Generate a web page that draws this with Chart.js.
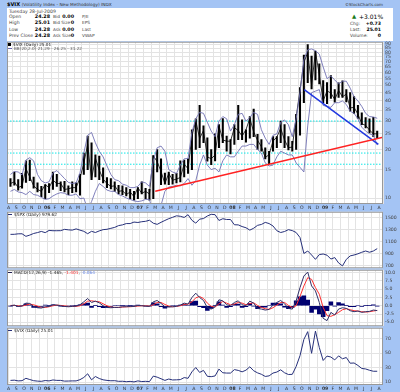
<!DOCTYPE html>
<html>
<head>
<meta charset="utf-8">
<script src="https://cdn.jsdelivr.net/npm/chart.js@4.4.0/dist/chart.umd.min.js"></script>
<style>
  body { margin:0; width:400px; height:392px; background:#a4c4f4; position:relative; overflow:hidden; font-family:'DejaVu Sans', sans-serif; }
  .t { position:absolute; white-space:nowrap; line-height:1; }
  .r { text-align:right; }
  .b { font-weight:bold; color:#000; }
  .lab { color:#444; }
  #head { position:absolute; left:7px; top:8px; width:386px; height:33px; background:#fff; }
  canvas { position:absolute; left:0; }
  .dash { display:inline-block; width:4px; height:1px; vertical-align:middle; margin-right:2px; }
</style>
</head>
<body>
<div class="t" style="left:7px;top:2px;font-size:5px"><b>$VIX</b> <span style="color:#333;font-size:4.3px">(Volatility Index - New Methodology) INDX</span></div>
<div class="t" style="left:345px;top:2.5px;font-size:4px;color:#333">©StockCharts.com</div>
<div id="head"></div>
<div class="t lab" style="left:9px;top:9.5px;font-size:4.6px">Tuesday 28-Jul-2009</div>

<div class="t lab" style="left:9px;top:14.5px;font-size:4.6px">Open</div>
<div class="t lab" style="left:9px;top:21px;font-size:4.6px">High</div>
<div class="t lab" style="left:9px;top:27.5px;font-size:4.6px">Low</div>
<div class="t lab" style="left:9px;top:33.5px;font-size:4.6px">Prev Close</div>
<div class="t b r" style="left:20px;width:30px;top:14.5px;font-size:4.8px">24.28</div>
<div class="t b r" style="left:20px;width:30px;top:21px;font-size:4.8px">25.01</div>
<div class="t b r" style="left:20px;width:30px;top:27.5px;font-size:4.8px">24.28</div>
<div class="t b r" style="left:20px;width:30px;top:33.5px;font-size:4.8px">24.28</div>

<div class="t lab" style="left:53px;top:14.5px;font-size:4.3px">Bid</div>
<div class="t lab" style="left:53px;top:21px;font-size:4.3px">Bid Size</div>
<div class="t lab" style="left:53px;top:27.5px;font-size:4.3px">Ask</div>
<div class="t lab" style="left:53px;top:33.5px;font-size:4.3px">Ask Size</div>
<div class="t b r" style="left:53px;width:21px;top:14.5px;font-size:4.8px">0.00</div>
<div class="t b r" style="left:53px;width:21px;top:21px;font-size:4.8px">0</div>
<div class="t b r" style="left:53px;width:21px;top:27.5px;font-size:4.8px">0.00</div>
<div class="t b r" style="left:53px;width:21px;top:33.5px;font-size:4.8px">0</div>

<div class="t lab" style="left:82px;top:14.5px;font-size:4.3px">P/E</div>
<div class="t lab" style="left:82px;top:21px;font-size:4.3px">EPS</div>
<div class="t lab" style="left:82px;top:27.5px;font-size:4.3px">Last</div>
<div class="t lab" style="left:82px;top:33.5px;font-size:4.3px">VWAP</div>

<div class="t" style="left:352px;top:13.5px;font-size:5.5px;color:#1a7a1a">▲</div>
<div class="t" style="left:359px;top:13.5px;font-size:6px;color:#000">+3.01%</div>
<div class="t lab" style="left:350px;top:21.5px;font-size:4.4px">Chg:</div>
<div class="t lab" style="left:350px;top:27.5px;font-size:4.4px">Last:</div>
<div class="t lab" style="left:350px;top:33.5px;font-size:4.4px">Volume:</div>
<div class="t b r" style="left:360px;width:21px;top:21.5px;font-size:4.6px">+0.73</div>
<div class="t b r" style="left:360px;width:21px;top:27.5px;font-size:4.6px">25.01</div>
<div class="t b r" style="left:360px;width:21px;top:33.5px;font-size:4.6px">0</div>

<canvas id="main" width="400" height="174" style="top:37px"></canvas>
<canvas id="spx" width="400" height="66" style="top:207px"></canvas>
<canvas id="macd" width="400" height="66" style="top:265px"></canvas>
<canvas id="vix" width="400" height="69" style="top:323px"></canvas>

<div class="t" style="left:8px;top:42.5px;font-size:4.2px;color:#222"><span style="display:inline-block;width:3px;height:3px;background:#000;margin-right:2px;vertical-align:middle"></span>$VIX (Daily) 25.01</div>
<div class="t" style="left:8px;top:47px;font-size:4.2px;color:#555"><span class="dash" style="background:#6b6bb0"></span>BB(20,2.0) 21.29 - 26.25 - 31.22</div>
<div class="t" style="left:8px;top:213px;font-size:4.3px;color:#222"><span class="dash" style="background:#26307a"></span>$SPX (Daily) 979.62</div>
<div class="t" style="left:8px;top:270.5px;font-size:4.3px;color:#222"><span class="dash" style="background:#202050"></span>MACD(12,26,9) -1.465, <span style="color:#ff3030">-1.401</span>, <span style="color:#6a8ae8">-0.064</span></div>
<div class="t" style="left:8px;top:328.5px;font-size:4.3px;color:#222"><span class="dash" style="background:#26307a"></span>$VIX (Daily) 25.01</div>

<script>
// half-month periods, Aug 2005 .. Jul 2009
const periods = [
  '05-08a','05-08b','05-09a','05-09b','05-10a','05-10b','05-11a','05-11b','05-12a','05-12b',
  '06-01a','06-01b','06-02a','06-02b','06-03a','06-03b','06-04a','06-04b','06-05a','06-05b','06-06a','06-06b',
  '06-07a','06-07b','06-08a','06-08b','06-09a','06-09b','06-10a','06-10b','06-11a','06-11b','06-12a','06-12b',
  '07-01a','07-01b','07-02a','07-02b','07-03a','07-03b','07-04a','07-04b','07-05a','07-05b','07-06a','07-06b',
  '07-07a','07-07b','07-08a','07-08b','07-09a','07-09b','07-10a','07-10b','07-11a','07-11b','07-12a','07-12b',
  '08-01a','08-01b','08-02a','08-02b','08-03a','08-03b','08-04a','08-04b','08-05a','08-05b','08-06a','08-06b',
  '08-07a','08-07b','08-08a','08-08b','08-09a','08-09b','08-10a','08-10b','08-11a','08-11b','08-12a','08-12b',
  '09-01a','09-01b','09-02a','09-02b','09-03a','09-03b','09-04a','09-04b','09-05a','09-05b','09-06a','09-06b',
  '09-07a','09-07b'
];

const monthLabels = ['A','S','O','N','D','06','F','M','A','M','J','J','A','S','O','N','D','07','F','M','A','M','J','J',
  'A','S','O','N','D','08','F','M','A','M','J','J','A','S','O','N','D','09','F','M','A','M','J','J','A'];

const vixLow = [
  11.8,12.0, 11.2,11.5, 12.5,12.8, 11.5,10.9, 10.2,9.9,
  10.8,11.3, 11.8,11.1, 10.9,10.5, 10.8,10.9, 10.4,14.0, 15.0,13.0, 13.5,13.0, 12.4,11.6, 11.4,11.0, 10.6,10.5, 10.3,9.9, 9.7,9.9,
  10.6,9.9, 9.7,9.9, 14.5,12.1, 12.2,12.1, 12.2,12.4, 12.6,13.5, 14.2,15.0, 20.0,20.5, 22.0,16.9, 16.1,17.0, 20.5,22.0, 19.5,18.8,
  21.5,23.0, 23.0,22.2, 23.5,24.0, 20.0,19.5, 17.5,16.3, 19.5,20.5, 22.0,20.5, 19.9,19.5, 20.0,24.5, 39.0,52.0, 47.5,54.0, 51.0,39.0,
  38.5,41.5, 39.3,42.0, 42.0,39.4, 34.5,33.5, 31.2,28.5, 27.2,25.3, 24.0,23.3
];
const vixHigh = [
  13.2,14.5, 13.0,14.2, 17.0,17.2, 13.5,12.4, 11.8,12.1,
  12.3,14.5, 14.0,12.6, 12.7,11.9, 12.6,12.4, 14.0,19.0, 24.2,22.0, 18.5,18.2, 15.4,13.4, 13.2,12.6, 12.0,11.9, 11.6,11.3, 11.0,11.6,
  12.6,11.5, 11.3,18.3, 20.0,17.5, 14.3,14.5, 14.0,14.2, 17.0,17.2, 17.5,26.5, 31.0,37.5, 28.0,23.6, 20.0,25.0, 28.5,31.1, 24.2,23.0,
  28.5,37.5, 30.5,26.5, 32.0,35.6, 24.8,23.0, 20.5,19.5, 24.0,24.0, 30.0,28.5, 24.0,22.5, 33.0,48.4, 76.9,89.5, 76.0,81.5, 68.0,53.5,
  52.0,57.4, 47.0,51.7, 53.2,47.0, 45.0,42.5, 37.5,33.8, 31.5,31.0, 31.6,26.0
];
const vixClose = [
  12.3,12.6, 11.6,11.9, 15.2,13.5, 11.9,11.3, 11.0,12.1,
  11.6,12.9, 12.3,12.3, 11.3,11.4, 11.6,11.6, 13.3,16.4, 21.5,13.1, 17.7,14.9, 13.1,12.3, 11.8,11.9, 11.0,11.1, 10.5,10.9, 10.2,11.6,
  10.7,11.0, 10.6,18.3, 16.8,14.6, 12.3,14.2, 12.9,13.1, 13.4,16.2, 15.2,24.2, 30.2,23.4, 26.2,18.0, 17.5,18.5, 28.0,22.9, 22.5,22.5,
  27.3,26.2, 24.2,26.5, 31.2,25.7, 22.8,20.8, 17.8,18.6, 22.5,23.9, 27.0,22.9, 20.5,20.7, 31.7,46.7, 69.3,80.1, 50.0,80.9, 58.0,40.0,
  46.1,44.8, 40.8,46.4, 42.4,44.1, 36.2,36.5, 33.1,28.9, 28.2,26.4, 25.0,25.01
];
const bbUpper = [
  14.0,14.6, 14.5,13.9, 17.2,17.8, 17.0,14.0, 12.8,12.4,
  12.6,14.3, 14.8,14.0, 13.2,12.5, 12.3,12.4, 14.3,19.0, 24.5,25.5, 22.0,19.5, 18.0,15.8, 14.0,13.0, 12.8,12.2, 12.0,11.6, 11.6,11.8,
  12.6,12.4, 11.8,17.0, 20.5,21.0, 19.5,15.0, 14.5,14.2, 16.0,17.5, 17.6,25.5, 31.0,34.0, 33.5,29.5, 26.0,24.0, 30.0,32.0, 31.0,26.0,
  28.5,33.0, 33.5,30.0, 31.5,34.0, 33.0,26.5, 23.5,21.5, 24.5,25.0, 29.5,30.5, 28.5,24.0, 31.0,45.0, 72.0,83.0, 84.0,82.0, 78.0,65.0,
  55.0,57.0, 54.0,51.0, 53.0,53.0, 48.0,42.5, 40.0,37.0, 33.5,32.0, 31.8,31.22
];
const bbLower = [
  11.0,11.3, 10.9,10.8, 10.5,11.0, 10.5,10.4, 10.1,9.8,
  9.9,10.3, 10.6,10.8, 10.7,10.4, 10.4,10.6, 9.9,10.0, 8.5,9.5, 11.0,12.3, 11.8,11.2, 11.0,11.0, 10.5,10.3, 10.0,9.8, 9.6,9.5,
  9.6,9.8, 9.8,8.0, 7.5,9.0, 11.0,11.7, 11.8,12.0, 11.9,12.3, 13.2,12.0, 12.8,16.0, 18.5,16.0, 15.0,15.3, 14.5,17.0, 18.5,18.0,
  18.0,19.5, 21.0,21.0, 21.5,21.5, 20.0,19.0, 16.5,15.8, 16.0,18.0, 19.5,19.0, 18.5,18.5, 16.5,15.5, 14.5,28.0, 45.0,46.0, 47.0,37.5,
  37.0,36.5, 39.0,39.0, 40.0,38.0, 34.5,33.5, 31.0,27.5, 26.0,25.0, 24.5,21.29
];
const spxClose = [
  1219,1220, 1228,1229, 1186,1207, 1234,1249, 1268,1248,
  1285,1280, 1280,1281, 1303,1295, 1290,1311, 1290,1270, 1230,1270, 1250,1277, 1298,1304, 1320,1336, 1366,1378, 1400,1400, 1425,1418,
  1431,1438, 1456,1406, 1387,1421, 1452,1482, 1505,1530, 1522,1503, 1549,1455, 1407,1474, 1484,1527, 1555,1549, 1452,1481, 1468,1468,
  1380,1378, 1350,1330, 1290,1322, 1370,1385, 1420,1400, 1360,1280, 1250,1267, 1298,1282, 1250,1166, 899,940, 873,800, 880,890,
  870,805, 830,740, 690,800, 858,873, 893,919, 940,919, 940,979.62
];
const macdLine = [
  0.0,0.2, -0.2,-0.1, 0.8,0.7, -0.2,-0.6, -0.7,-0.3,
  -0.2,0.3, 0.2,0.0, -0.2,-0.3, -0.2,-0.1, 0.3,1.2, 2.2,1.0, 1.4,0.9, 0.0,-0.5, -0.6,-0.5, -0.5,-0.3, -0.3,-0.2, -0.2,0.1,
  0.0,-0.1, -0.2,1.2, 1.6,0.7, -0.3,-0.4, -0.3,-0.2, 0.2,0.8, 0.5,2.5, 3.8,2.5, 1.6,-0.6, -1.0,-0.3, 1.8,1.5, 0.3,0.0,
  1.0,1.5, 0.3,0.0, 1.4,0.8, -0.8,-1.0, -1.3,-1.1, 0.2,1.0, 1.6,0.6, -0.8,-1.0, 1.5,5.5, 9.0,10.2, 6.0,4.5, 1.0,-3.8,
  -4.5,-2.0, -2.8,-1.0, -0.6,-0.8, -1.5,-1.8, -1.6,-2.0, -1.8,-1.7, -1.3,-1.465
];
const macdSignal = [
  0.1,0.1, 0.0,-0.1, 0.2,0.5, 0.3,-0.1, -0.5,-0.5,
  -0.3,0.0, 0.2,0.1, 0.0,-0.2, -0.2,-0.2, 0.0,0.6, 1.4,1.5, 1.3,1.2, 0.6,0.0, -0.4,-0.5, -0.5,-0.4, -0.3,-0.3, -0.2,-0.1,
  0.0,0.0, -0.1,0.3, 1.0,1.0, 0.4,-0.1, -0.3,-0.2, 0.0,0.4, 0.5,1.2, 2.4,2.8, 2.2,0.8, -0.2,-0.4, 0.6,1.3, 0.8,0.3,
  0.5,1.0, 0.8,0.3, 0.7,0.9, 0.1,-0.5, -0.9,-1.1, -0.6,0.2, 1.0,1.0, 0.1,-0.5, 0.0,2.8, 6.0,8.5, 8.0,5.5, 3.5,-0.5,
  -3.0,-3.2, -2.7,-2.0, -1.2,-0.9, -1.2,-1.5, -1.6,-1.8, -1.9,-1.8, -1.6,-1.401
];

// axis ticks
const vixLogTicks = [10,15,20,25,30,35,40,45,50,55,60,65,70,75,80,85,90];
const spxTicks = [700,800,900,1000,1100,1200,1300,1400,1500];
const macdTicks = [-5,-2.5,0,2.5,5,7.5,10];
const vixLinTicks = [10,20,30,40,50,60,70,80];

// drawn lines on the price panel: [month index, VIX value]
const redTrend = [[19.0, 11.0], [48.5, 23.8]];
const blueTrend = [[38.3, 47.0], [47.9, 21.5]];
const cyanLevels = [30, 19, 16.2];

const xMin = -0.2, xMax = 48.5;

// month index (0 = Aug 2005) at the middle of each half-month
const xs = periods.map(p => {
  const yy = +p.slice(0, 2), mm = +p.slice(3, 5);
  return (yy - 5) * 12 + (mm - 8) + (p.endsWith('b') ? 0.5 : 0) + 0.25;
});
const pts = arr => arr.map((v, i) => ({ x: xs[i], y: v }));

const plotBg = {
  id: 'plotBg',
  beforeDraw(chart) {
    const { ctx, chartArea: a } = chart;
    ctx.save();
    ctx.fillStyle = '#fff';
    ctx.fillRect(a.left, a.top, a.width, a.height);
    ctx.restore();
  },
  afterDraw(chart) {
    const { ctx, chartArea: a } = chart;
    ctx.save();
    ctx.strokeStyle = '#999';
    ctx.lineWidth = 1;
    ctx.strokeRect(a.left + 0.5, a.top + 0.5, a.width - 1, a.height - 1);
    ctx.restore();
  }
};

function xAxis(showLabels) {
  return {
    type: 'linear', min: xMin, max: xMax, offset: false,
    afterBuildTicks: s => { s.ticks = monthLabels.map((_, i) => ({ value: i })); },
    afterFit: s => { s.height = showLabels ? 7 : 0; },
    grid: { color: '#e3e3e3', drawTicks: false },
    border: { display: false },
    ticks: {
      display: showLabels, autoSkip: false, maxRotation: 0, padding: 1, color: '#333',
      font: c => ({ family: 'DejaVu Sans', size: 4.6, weight: /^\d/.test(monthLabels[c.index] || '') ? 'bold' : 'normal' }),
      callback: (v, i) => monthLabels[i]
    }
  };
}

function yAxis(type, min, max, ticks, fmt) {
  return {
    type, position: 'right', min, max,
    afterBuildTicks: s => { s.ticks = ticks.map(v => ({ value: v })); },
    afterFit: s => { s.width = 17; },
    grid: { color: '#e3e3e3', drawTicks: false },
    border: { display: false },
    ticks: { padding: 2, color: '#444', font: { family: 'DejaVu Sans', size: 4.6 }, callback: v => fmt(v) }
  };
}

function opts(showX, y, padTop, padBottom) {
  return {
    responsive: false, animation: false, events: [],
    layout: { padding: { left: 7, right: 0, top: padTop, bottom: padBottom } },
    plugins: { legend: { display: false }, tooltip: { enabled: false } },
    scales: { x: xAxis(showX), y }
  };
}

const thin = (data, color, w) => ({ type: 'line', data, borderColor: color, borderWidth: w || 1, pointRadius: 0, tension: 0, fill: false });

// price panel
new Chart(document.getElementById('main'), {
  type: 'line',
  data: {
    datasets: [
      thin(redTrend.map(p => ({ x: p[0], y: p[1] })), '#ff2222', 1.5),
      thin(blueTrend.map(p => ({ x: p[0], y: p[1] })), '#2238e0', 1.5),
      thin(pts(bbUpper), '#7272b4', 0.9),
      thin(pts(bbLower), '#7272b4', 0.9),
      thin(pts(vixClose), '#000', 0.8),
      {
        type: 'bar', data: vixLow.map((v, i) => ({ x: xs[i], y: [v, vixHigh[i]] })),
        backgroundColor: '#000', barThickness: 1.4, grouped: false
      },
      ...cyanLevels.map(v => Object.assign(thin([{ x: xMin, y: v }, { x: xMax, y: v }], '#10e8e8', 1), { borderDash: [1.5, 1.5] }))
    ]
  },
  options: opts(true, yAxis('logarithmic', 9.18, 93.1, vixLogTicks, v => String(v)), 4, 0),
  plugins: [plotBg]
});

// S&P 500 panel
new Chart(document.getElementById('spx'), {
  type: 'line',
  data: { datasets: [thin(pts(spxClose), '#26307a', 1)] },
  options: opts(false, yAxis('linear', 651, 1598, spxTicks, v => String(v)), 4, 4),
  plugins: [plotBg]
});

// MACD panel
new Chart(document.getElementById('macd'), {
  type: 'line',
  data: {
    datasets: [
      thin(pts(macdLine), '#303068', 1),
      thin(pts(macdSignal), '#ff3030', 1),
      {
        type: 'bar', data: macdLine.map((v, i) => ({ x: xs[i], y: v - macdSignal[i] })),
        backgroundColor: '#000070', barThickness: 3.9, grouped: false
      }
    ]
  },
  options: opts(false, yAxis('linear', -6.2, 10.9, macdTicks, v => v.toFixed(1)), 4, 4),
  plugins: [plotBg]
});

// VIX close panel
new Chart(document.getElementById('vix'), {
  type: 'line',
  data: { datasets: [thin(pts(vixClose), '#26307a', 1)] },
  options: opts(true, yAxis('linear', 5.9, 85.5, vixLinTicks, v => String(v)), 4, 0),
  plugins: [plotBg]
});
</script>
</body>
</html>
